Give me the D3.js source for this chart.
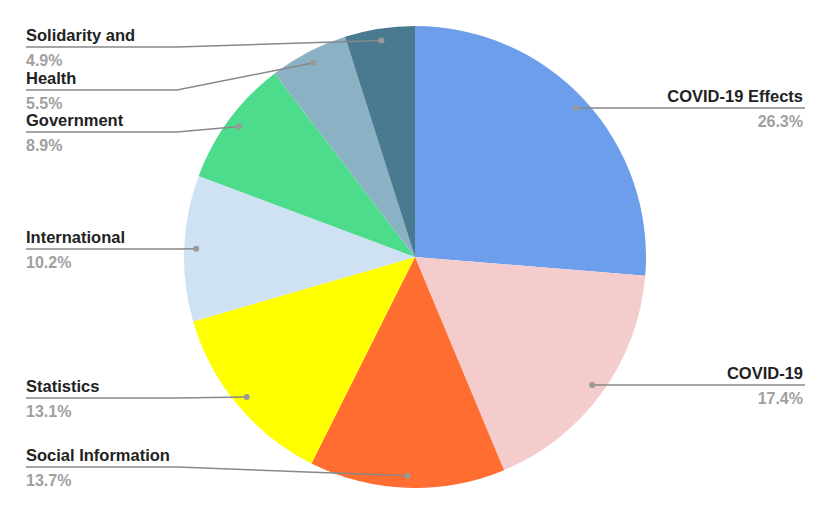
<!DOCTYPE html>
<html><head><meta charset="utf-8">
<script src="https://cdn.jsdelivr.net/npm/d3@7"></script>
<style>body{margin:0;background:#fff}text{font-family:"Liberation Sans",Arial,sans-serif}</style>
</head><body><svg id="c" width="830" height="514"></svg>
<script>
const categories = ["COVID-19 Effects","COVID-19","Social Information","Statistics","International","Government","Health","Solidarity and"];
const values = [26.3,17.4,13.7,13.1,10.2,8.9,5.5,4.9];
const pctLabels = ["26.3%","17.4%","13.7%","13.1%","10.2%","8.9%","5.5%","4.9%"];
const colors = ["#6d9eeb","#f4cccc","#ff6d31","#ffff00","#cfe2f3","#4cdc8b","#8ab1c4","#4a7a8f"];
// label line y for each slice (layout)
const labelY = [108,385,467,398,249,132,90,47];
const side = ["r","r","l","l","l","l","l","l"];

const svg = d3.select("#c");
const cx = 415, cy = 257, R = 231;
const g = svg.append("g").attr("transform",`translate(${cx},${cy})`);
const pie = d3.pie().sort(null).value(d=>d)(values);
const arc = d3.arc().innerRadius(0).outerRadius(R);
g.selectAll("path").data(pie).join("path").attr("d",arc).attr("fill",(d,i)=>colors[i]);

const dotR = R*0.948;
pie.forEach((d,i)=>{
  const a = (d.startAngle+d.endAngle)/2;
  const px = cx + Math.sin(a)*dotR, py = cy - Math.cos(a)*dotR;
  const ly = labelY[i];
  let pts;
  if(side[i]==="r"){
    pts = [[px,ly],[805,ly]];
  } else {
    pts = [[px,py],[177,ly],[26,ly]];
  }
  svg.append("path").attr("d",d3.line()(pts)).attr("fill","none").attr("stroke","#888").attr("stroke-width",1.5);
  svg.append("circle").attr("cx",px).attr("cy",side[i]==="r"?ly:py).attr("r",3).attr("fill","#999");
  const tx = side[i]==="r"?803:26, anchor = side[i]==="r"?"end":"start";
  svg.append("text").attr("x",tx).attr("y",ly-6).attr("text-anchor",anchor)
    .attr("font-size",16.5).attr("font-weight","bold").attr("fill","#222").text(categories[i]);
  svg.append("text").attr("x",tx).attr("y",ly+19).attr("text-anchor",anchor)
    .attr("font-size",16).attr("font-weight","bold").attr("fill","#a0a0a0").text(pctLabels[i]);
});
</script></body></html>
